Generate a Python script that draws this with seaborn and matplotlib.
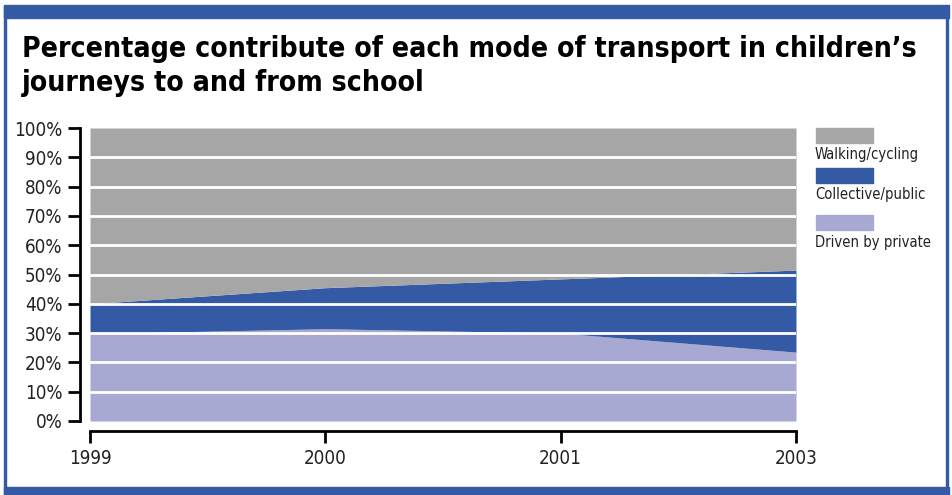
import matplotlib
matplotlib.use("Agg")
import matplotlib.pyplot as plt
import matplotlib.patches as mpatches
import seaborn as sns
import pandas as pd

years = ["1999", "2000", "2001", "2003"]
driven_private = [29.8, 31.5, 30.0, 23.5]
collective_public = [10.2, 14.0, 18.5, 28.0]
walking_cycling = [60.0, 54.5, 51.5, 48.5]

series_names = ["Walking/cycling", "Collective/public", "Driven by private"]
colors = {"Walking/cycling": "#a6a6a6", "Collective/public": "#345aa6",
          "Driven by private": "#a7a9d3"}
frame_blue = "#345aa5"

df = pd.DataFrame({"year": years, "Driven by private": driven_private,
                   "Collective/public": collective_public,
                   "Walking/cycling": walking_cycling})

sns.set_style("white")
plt.rcParams['font.family'] = ['DejaVu Sans']
plt.rcParams['font.stretch'] = 'condensed'

fig = plt.figure(figsize=(9.53, 4.95), dpi=100)
ax = fig.add_axes([90 / 953, 74 / 495, 706 / 953, 293 / 495])

x = list(range(len(years)))
order = ["Driven by private", "Collective/public", "Walking/cycling"]
ax.stackplot(x, [df[c] for c in order], colors=[colors[c] for c in order],
             linewidth=0, zorder=1)

# white gridlines drawn over the areas
for v in range(10, 100, 10):
    ax.axhline(v, color="white", lw=2, zorder=3)

ax.set_xlim(0, len(years) - 1)
ax.set_ylim(0, 100)
ax.set_xticks(x)
ax.set_xticklabels(years)
ax.set_yticks(range(0, 101, 10))
ax.set_yticklabels([f"{v}%" for v in range(0, 101, 10)])

for side in ["top", "right"]:
    ax.spines[side].set_visible(False)
for side in ["left", "bottom"]:
    ax.spines[side].set_position(("outward", 7.2))
    ax.spines[side].set_linewidth(2)
    ax.spines[side].set_color("black")
ax.tick_params(axis="both", direction="out", length=8.6, width=2, colors="black",
               labelsize=13.5, labelcolor="#222222", bottom=True, left=True)
ax.tick_params(axis="y", pad=4)
ax.tick_params(axis="x", pad=4)
ax.set_xlabel("")
ax.set_ylabel("")

# title
fig.text(22 / 953, 1 - 66 / 495, "Percentage contribute of each mode of transport in children\u2019s\njourneys to and from school",
         fontsize=20.3, fontweight="bold", va="center", ha="left", linespacing=1.3,
         color="black")

# legend: swatch with label below
legend_y = [128, 168, 215]
for name, y in zip(series_names, legend_y):
    fig.patches.append(mpatches.Rectangle((816 / 953, 1 - (y + 15) / 495), 57 / 953, 15 / 495,
                                          transform=fig.transFigure, color=colors[name]))
    fig.text(815 / 953, 1 - (y + 27) / 495, name, fontsize=10.6, va="center", ha="left",
             color="#222222")

# blue frame
fig.patches.append(mpatches.Rectangle((0.004, 1 - 18 / 495), 0.992, 13 / 495,
                                      transform=fig.transFigure, color=frame_blue))
fig.patches.append(mpatches.Rectangle((0.004, 0), 0.992, 8 / 495,
                                      transform=fig.transFigure, color=frame_blue))
fig.patches.append(mpatches.Rectangle((0.004, 0), 2 / 953, 1 - 6 / 495,
                                      transform=fig.transFigure, color=frame_blue))
fig.patches.append(mpatches.Rectangle((0.996 - 3 / 953, 0), 2 / 953, 1 - 6 / 495,
                                      transform=fig.transFigure, color=frame_blue))

fig.savefig("out.png", dpi=100)
plt.close()
